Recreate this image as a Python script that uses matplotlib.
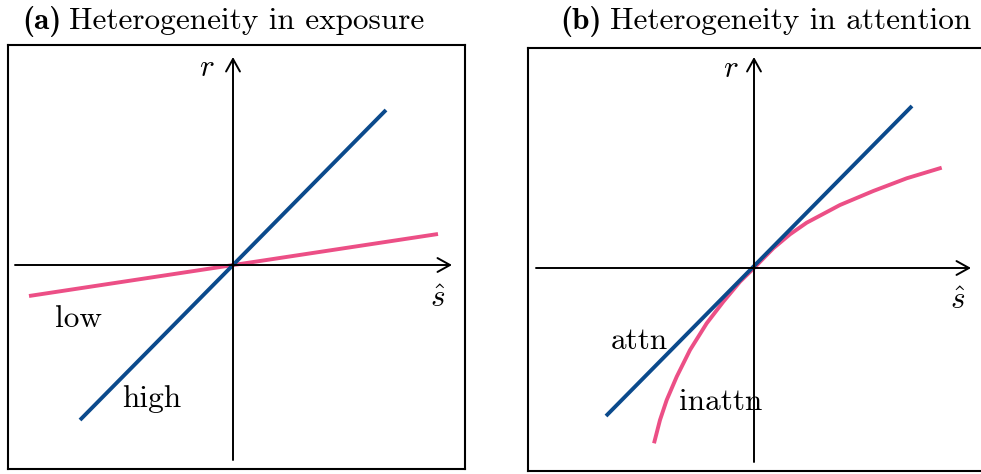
import matplotlib
matplotlib.use("Agg")
import matplotlib.pyplot as plt
import numpy as np

plt.rcParams['font.family'] = 'cmr10'
plt.rcParams['mathtext.fontset'] = 'cm'
plt.rcParams['axes.formatter.use_mathtext'] = True

BLUE = '#0b4a8c'
PINK = '#ec4f86'
FS = 22.5

# panel (a): heterogeneity in exposure
a_high_x = [-1.53, 1.53]
a_high_y = [-1.55, 1.55]
a_low_x = [-2.04, 2.05]
a_low_y = [-0.31, 0.31]

# panel (b): heterogeneity in attention
b_attn_x = [-1.48, 1.58]
b_attn_y = [-1.48, 1.62]
b_inattn_x = [-1.00, -0.94, -0.873, -0.773, -0.64, -0.473, -0.307, -0.14, 0.0,
              0.193, 0.36, 0.527, 0.86, 1.193, 1.527, 1.877]
b_inattn_y = [-1.753, -1.52, -1.32, -1.087, -0.82, -0.553, -0.337, -0.137, 0.0,
              0.197, 0.337, 0.453, 0.63, 0.77, 0.897, 1.003]

title_tags = ['(a)', '(b)']
title_texts = ['Heterogeneity in exposure', 'Heterogeneity in attention']

fig = plt.figure(figsize=(9.81, 4.74), dpi=100)
W, H = 981, 474

def make_ax(x0, x1, ytop, ybot, ox, oy):
    ax = fig.add_axes([x0 / W, 1 - ybot / H, (x1 - x0) / W, (ybot - ytop) / H])
    ax.set_xlim((x0 - ox) / 100, (x1 - ox) / 100)
    ax.set_ylim((oy - ybot) / 100, (oy - ytop) / 100)
    ax.set_xticks([])
    ax.set_yticks([])
    for s in ax.spines.values():
        s.set_linewidth(1.5)
    return ax

def draw_axes(ax, xr, yr, rpos, spos):
    ap = dict(arrowstyle='->,head_length=0.9,head_width=0.5', lw=1.4, color='black',
              shrinkA=0, shrinkB=0)
    ax.annotate('', xy=(xr[1], 0), xytext=(xr[0], 0), arrowprops=ap)
    ax.annotate('', xy=(0, yr[1]), xytext=(0, yr[0]), arrowprops=ap)
    ax.text(rpos[0], rpos[1], r'$r$', fontsize=FS, ha='center', va='baseline')
    ax.text(spos[0], spos[1], r'$\hat{s}$', fontsize=FS, ha='center', va='baseline')

ax1 = make_ax(8, 465, 45, 469, 233, 265)
draw_axes(ax1, (-2.18, 2.19), (-1.95, 2.08), (-0.26, 1.89), (2.05, -0.42))
ax1.plot(a_low_x, a_low_y, color=PINK, lw=2.8, solid_capstyle='butt')
ax1.plot(a_high_x, a_high_y, color=BLUE, lw=2.8, solid_capstyle='butt')
ax1.text(-1.55, -0.62, 'low', fontsize=FS, ha='center', va='baseline')
ax1.text(-0.81, -1.42, 'high', fontsize=FS, ha='center', va='baseline')

ax2 = make_ax(528, 992, 48, 471, 754, 268)
draw_axes(ax2, (-2.18, 2.17), (-1.94, 2.11), (-0.23, 1.91), (2.04, -0.41))
ax2.plot(b_inattn_x, b_inattn_y, color=PINK, lw=2.8, solid_capstyle='butt',
         solid_joinstyle='round')
ax2.plot(b_attn_x, b_attn_y, color=BLUE, lw=2.8, solid_capstyle='butt')
ax2.text(-1.15, -0.81, 'attn', fontsize=FS, ha='center', va='baseline')
ax2.text(-0.33, -1.42, 'inattn', fontsize=FS, ha='center', va='baseline')

# titles: bold tag followed by roman text
renderer = fig.canvas.get_renderer()
for x_left, tag, txt in zip([22, 560], title_tags, title_texts):
    t = fig.text(x_left / W, 1 - 29 / H, tag, fontsize=FS, family='cmb10',
                 ha='left', va='baseline')
    bb = t.get_window_extent(renderer)
    fig.text((bb.x1 + 8) / W, 1 - 29 / H, txt, fontsize=FS, ha='left', va='baseline')

fig.savefig('out.png', dpi=100)
